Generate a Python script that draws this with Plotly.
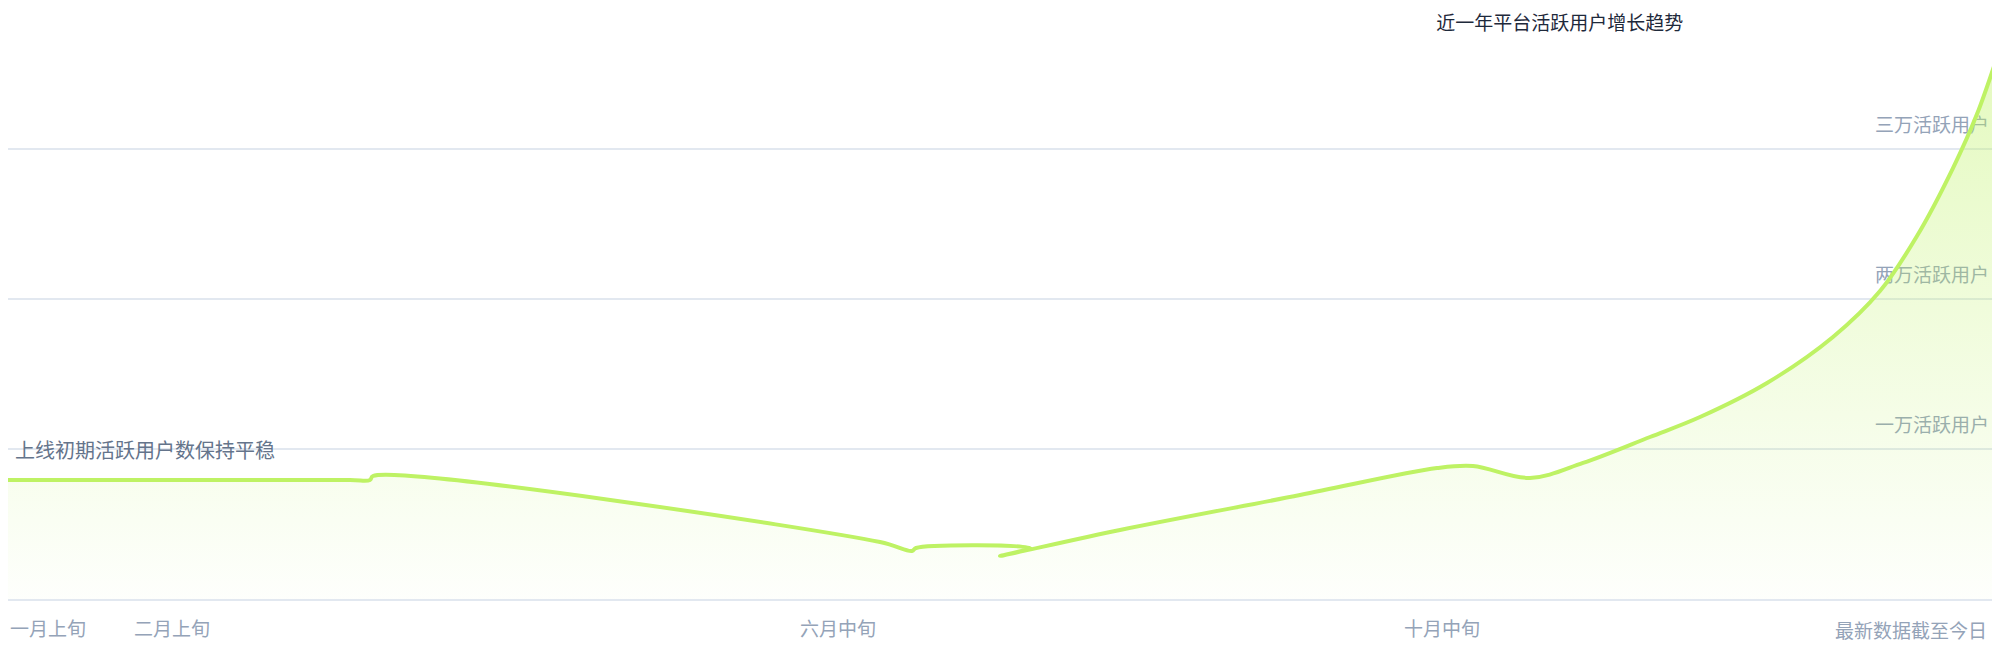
import plotly.graph_objects as go

# days since start and active users -- order kept as in the source data
days = [0, 70, 74, 74.6, 176, 182.4, 183.2, 206, 200, 224, 260, 287.4, 294.6, 306,
        316.6, 330, 340, 353.4, 366.6, 376, 383.4, 390.6, 395.4, 400]
users = [7930, 7930, 7930, 8200, 3800, 3200, 3400, 3400, 2870, 4600, 6930, 8730, 8870, 8070,
         9070, 10800, 12130, 14400, 17470, 20530, 24200, 28730, 32330, 36730]

ytick_vals = [10000, 20000, 30000]
ytick_text = ["一万活跃用户", "两万活跃用户", "三万活跃用户"]

xtick_vals = [9.6, 34.4, 167.6, 288.4, 382.2]
xtick_text = ["一月上旬", "二月上旬", "六月中旬", "十月中旬", "最新数据截至今日"]

title_text = "近一年平台活跃用户增长趋势"
start_note = "上线初期活跃用户数保持平稳"

cjk = "Noto Sans CJK SC"

fig = go.Figure()
fig.add_trace(go.Scatter(
    x=days, y=users, mode="lines",
    line=dict(color="#bef264", width=4, shape="spline"),
    fill="tozeroy",
    fillgradient=dict(type="vertical",
                      colorscale=[[0, "rgba(190,242,100,0.02)"], [1, "rgba(190,242,100,0.42)"]]),
    hoverinfo="skip", showlegend=False,
))

fig.add_annotation(x=0, xref="paper", xanchor="left", xshift=5,
                   y=10000, yref="y", yanchor="middle",
                   text=start_note, showarrow=False,
                   font=dict(family=cjk, size=20, color="#64748b"))

# plotly hides the last x tick label under the inside y labels, so it is written as a note
fig.add_annotation(x=xtick_vals[-1], xref="x", xanchor="center",
                   y=0, yref="paper", yanchor="middle", yshift=-30,
                   text=xtick_text[-1], showarrow=False,
                   font=dict(family=cjk, size=19, color="#94a3b8"))

# the page adds an 8px body margin, so the figure is 8px smaller than the window
fig.update_layout(
    width=1992, height=652,
    margin=dict(l=0, r=0, t=0, b=61),
    paper_bgcolor="white", plot_bgcolor="white",
    font=dict(family=cjk, size=19, color="#94a3b8"),
    title=dict(text=title_text, x=0.779, xanchor="center", xref="paper",
               y=1 - 15 / 652, yanchor="middle",
               font=dict(family=cjk, size=19, color="#1e293b")),
)
fig.update_xaxes(range=[1.6, 400], tickvals=xtick_vals[:-1], ticktext=xtick_text[:-1],
                 tickangle=0, showgrid=False, zeroline=False, ticks="",
                 showline=True, linecolor="#e2e8f0", linewidth=2,
                 ticklabelstandoff=12,
                 tickfont=dict(family=cjk, size=19, color="#94a3b8"))
fig.update_yaxes(range=[0, 39400], side="right", tickvals=ytick_vals, ticktext=ytick_text,
                 ticklabelposition="inside top", layer="below traces",
                 ticklabelshift=-10, ticklabelstandoff=8,
                 showgrid=True, gridcolor="#e2e8f0", gridwidth=1.5,
                 zeroline=False, ticks="",
                 tickfont=dict(family=cjk, size=19, color="#94a3b8"))

fig.write_html("out.html")
